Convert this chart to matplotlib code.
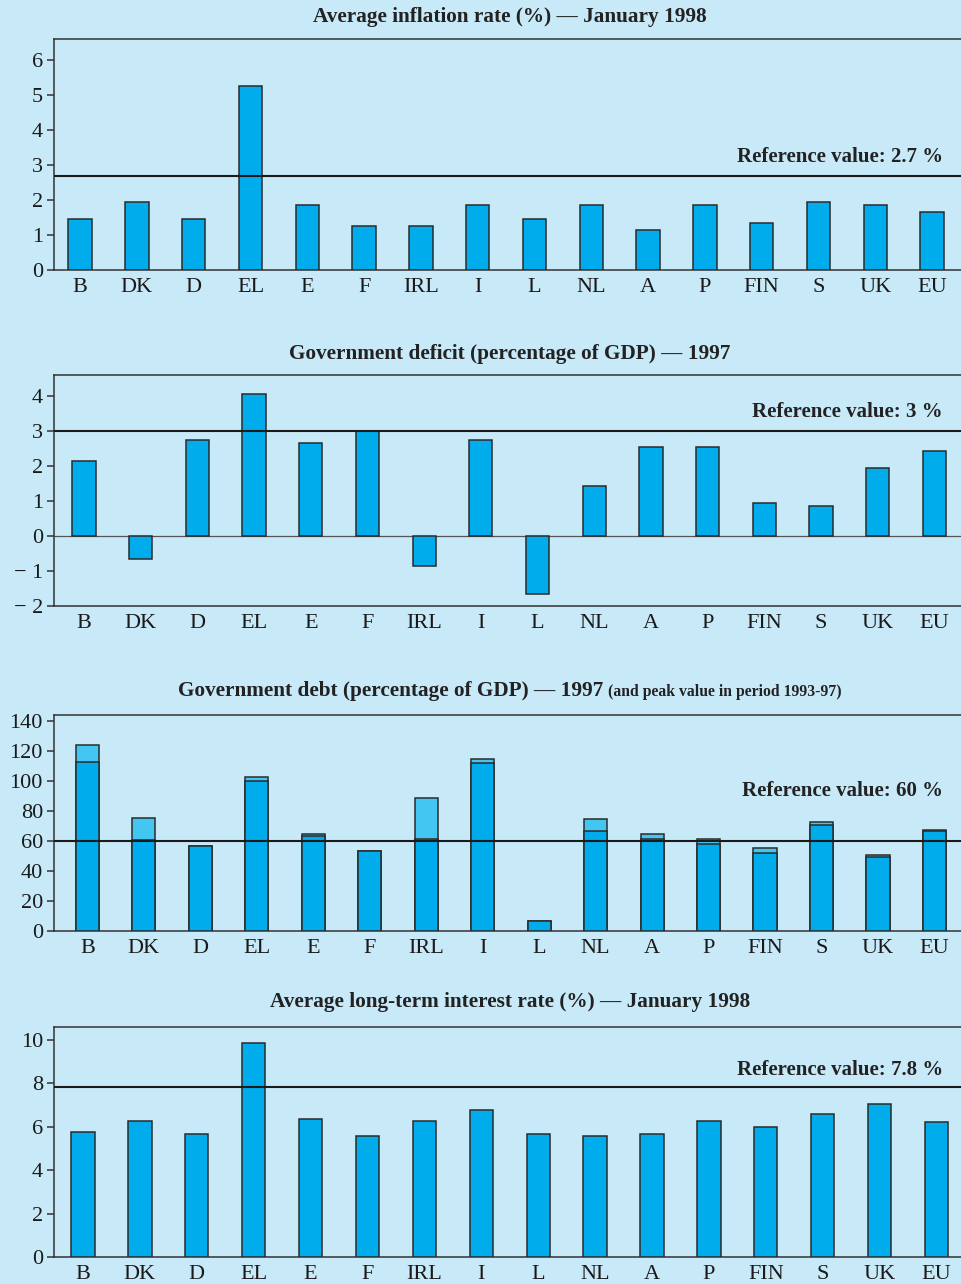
import matplotlib
matplotlib.use("Agg")
from matplotlib import pyplot as plt

countries = ["B", "DK", "D", "EL", "E", "F", "IRL", "I", "L", "NL", "A", "P", "FIN", "S", "UK", "EU"]

inflation = [1.45, 1.95, 1.45, 5.25, 1.85, 1.25, 1.25, 1.85, 1.45, 1.85, 1.15, 1.85, 1.35, 1.95, 1.85, 1.65]
deficit = [2.15, -0.65, 2.75, 4.05, 2.65, 3.0, -0.87, 2.75, -1.65, 1.43, 2.55, 2.55, 0.95, 0.85, 1.95, 2.43]
debt_1997 = [112.5, 61, 56.7, 100, 63.6, 53.6, 61.6, 112, 6.9, 66.7, 61.4, 57.8, 52, 70.9, 49.6, 66.5]
debt_peak = [124.3, 75.1, 56.7, 102.7, 64.7, 53.6, 88.5, 114.7, 6.9, 74.9, 64.5, 61.4, 55.6, 72.7, 50.7, 67.6]
interest = [5.75, 6.29, 5.67, 9.88, 6.36, 5.58, 6.27, 6.78, 5.67, 5.58, 5.67, 6.29, 5.98, 6.57, 7.07, 6.21]

ref_values = [2.7, 3.0, 60, 7.85]
ref_labels = ["Reference value: 2.7 %", "Reference value: 3 %",
              "Reference value: 60 %", "Reference value: 7.8 %"]

BG = "#c8e9f8"
BAR = "#00acec"
PEAK = "#43c6f2"
EDGE = "#2b2b2b"

plt.rcParams["font.family"] = ["Liberation Serif", "DejaVu Serif"]

fig = plt.figure(figsize=(9.61, 12.84), dpi=100, facecolor=BG)
W, H = 961, 1284


def make_axes(top_px, bottom_px):
    return fig.add_axes([54 / W, 1 - bottom_px / H, 1 - 54 / W, (bottom_px - top_px) / H])


def style(ax, ylim, yticks, xlim, ytick_labels=None):
    ax.set_facecolor(BG)
    ax.set_ylim(*ylim)
    ax.set_xlim(*xlim)
    ax.set_yticks(yticks)
    if ytick_labels is not None:
        ax.set_yticklabels(ytick_labels)
    ax.set_xticks(range(len(countries)))
    ax.set_xticklabels(countries)
    ax.tick_params(axis="x", length=0, pad=6, labelsize=16, colors="#1a1a1a")
    ax.tick_params(axis="y", length=5, width=1.1, pad=3, labelsize=16,
                   colors="#1a1a1a", color="#333333")
    ax.spines["right"].set_visible(False)
    for s in ("left", "top", "bottom"):
        ax.spines[s].set_color("#333333")
        ax.spines[s].set_linewidth(1.1)


def ref_line(ax, val, label, offset_px):
    ax.axhline(val, color="#1a1a1a", lw=1.5, zorder=4)
    ax.annotate(label, xy=(0.98, val), xycoords=("axes fraction", "data"),
                xytext=(0, offset_px * 0.72), textcoords="offset points",
                ha="right", va="center", fontsize=15, fontweight="bold",
                color="#222222")


x = list(range(len(countries)))
bw = 0.41

# Panel 1: inflation
ax1 = make_axes(39, 270)
ax1.bar(x, inflation, width=bw, color=BAR, edgecolor=EDGE, linewidth=1.1, zorder=3)
style(ax1, (0, 6.6), range(0, 7), (-0.46, 15.51))
ref_line(ax1, ref_values[0], ref_labels[0], 19)
fig.text(510 / W, 1 - 17 / H, "Average inflation rate (%) — January 1998",
         ha="center", va="center", fontsize=15.3, fontweight="bold", color="#222222")

# Panel 2: deficit
ax2 = make_axes(375, 606)
ax2.bar(x, deficit, width=bw, color=BAR, edgecolor=EDGE, linewidth=1.1, zorder=3)
style(ax2, (-2, 4.6), range(-2, 5), (-0.53, 15.47),
      ytick_labels=["− 2", "− 1", "0", "1", "2", "3", "4"])
ax2.axhline(0, color="#555555", lw=0.9, zorder=2)
ref_line(ax2, ref_values[1], ref_labels[1], 19)
fig.text(510 / W, 1 - 354 / H, "Government deficit (percentage of GDP) — 1997",
         ha="center", va="center", fontsize=15.3, fontweight="bold", color="#222222")

# Panel 3: debt
ax3 = make_axes(715, 931)
ax3.bar(x, debt_peak, width=bw, color=PEAK, edgecolor=EDGE, linewidth=1.1, zorder=3)
ax3.bar(x, debt_1997, width=bw, color=BAR, edgecolor=EDGE, linewidth=1.1, zorder=3)
style(ax3, (0, 144), range(0, 141, 20), (-0.59, 15.47))
ref_line(ax3, ref_values[2], ref_labels[2], 50)
fig.text(603 / W, 1 - 691 / H, "Government debt (percentage of GDP) — 1997",
         ha="right", va="center", fontsize=15.3, fontweight="bold", color="#222222")
fig.text(608 / W, 1 - 692 / H, "(and peak value in period 1993-97)",
         ha="left", va="center", fontsize=11.3, fontweight="bold", color="#222222")

# Panel 4: long-term interest
ax4 = make_axes(1027, 1257)
ax4.bar(x, interest, width=bw, color=BAR, edgecolor=EDGE, linewidth=1.1, zorder=3)
style(ax4, (0, 10.6), range(0, 11, 2), (-0.51, 15.43))
ref_line(ax4, ref_values[3], ref_labels[3], 17)
fig.text(510 / W, 1 - 1002 / H, "Average long-term interest rate (%) — January 1998",
         ha="center", va="center", fontsize=15.3, fontweight="bold", color="#222222")

fig.savefig("out.png", dpi=100, facecolor=BG)
